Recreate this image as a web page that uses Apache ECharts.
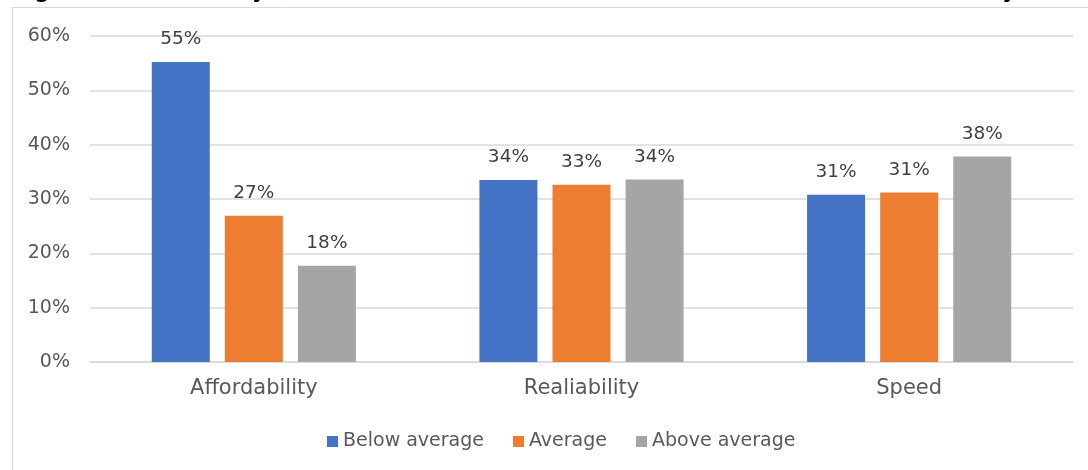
<!DOCTYPE html>
<html>
<head>
<meta charset="utf-8">
<script src="https://cdn.jsdelivr.net/npm/echarts@6/dist/echarts.min.js"></script>
<style>
  html, body { margin: 0; padding: 0; background: #ffffff; }
  #chart { width: 1088px; height: 470px; }
</style>
</head>
<body>
<div id="chart"></div>
<script>
// Survey results: how respondents rate their available internet service
const categories = ['Affordability', 'Realiability', 'Speed'];
const seriesNames = ['Below average', 'Average', 'Above average'];
const belowAverage = [0.552, 0.335, 0.308];
const average = [0.269, 0.326, 0.312];
const aboveAverage = [0.177, 0.336, 0.378];
const yTicks = [0, 0.1, 0.2, 0.3, 0.4, 0.5, 0.6];
const titleText = 'Figure 6: How do you feel about the internet service that is available to you?';

const colors = ['#4472C4', '#ED7D31', '#A5A5A5'];
const font = '"DejaVu Sans", "Liberation Sans", Arial, sans-serif';
const pct = v => Math.round(v * 100) + '%';

const chart = echarts.init(document.getElementById('chart'), null, { renderer: 'canvas' });

const makeSeries = (name, data, color) => ({
  name: name,
  type: 'bar',
  data: data,
  barWidth: 58,
  barGap: '26%',
  itemStyle: { color: color },
  label: {
    show: true,
    position: 'top',
    distance: 13,
    formatter: p => pct(p.value),
    fontFamily: font,
    fontSize: 18.5,
    color: '#404040'
  }
});

chart.setOption({
  animation: false,
  textStyle: { fontFamily: font },
  graphic: [
    {
      type: 'rect',
      shape: { x: 12.5, y: 7.5, width: 1100, height: 500 },
      style: { fill: 'none', stroke: '#d9d9d9', lineWidth: 1 },
      z: -1
    },
    {
      type: 'text',
      left: 12,
      top: -25,
      style: {
        text: titleText,
        fontFamily: font,
        fontSize: 27.5,
        fill: '#000000'
      }
    }
  ],
  grid: { left: 90, right: 15, top: 36, bottom: 108 },
  legend: {
    data: seriesNames,
    bottom: 14,
    left: 322,
    itemWidth: 11,
    itemHeight: 11,
    itemGap: 29,
    icon: 'rect',
    textStyle: { fontFamily: font, fontSize: 19, color: '#595959' }
  },
  xAxis: {
    type: 'category',
    data: categories,
    axisTick: { show: false },
    axisLine: { show: true, lineStyle: { color: '#d9d9d9', width: 1.5 } },
    axisLabel: { fontFamily: font, fontSize: 21, color: '#595959', margin: 16 }
  },
  yAxis: {
    type: 'value',
    min: yTicks[0],
    max: yTicks[yTicks.length - 1],
    interval: 0.1,
    axisLine: { show: false },
    axisTick: { show: false },
    splitLine: { lineStyle: { color: '#d9d9d9', width: 1.5 } },
    axisLabel: {
      fontFamily: font,
      fontSize: 19,
      color: '#595959',
      margin: 20,
      formatter: v => pct(v)
    }
  },
  series: [
    makeSeries(seriesNames[0], belowAverage, colors[0]),
    makeSeries(seriesNames[1], average, colors[1]),
    makeSeries(seriesNames[2], aboveAverage, colors[2])
  ]
});
</script>
</body>
</html>
